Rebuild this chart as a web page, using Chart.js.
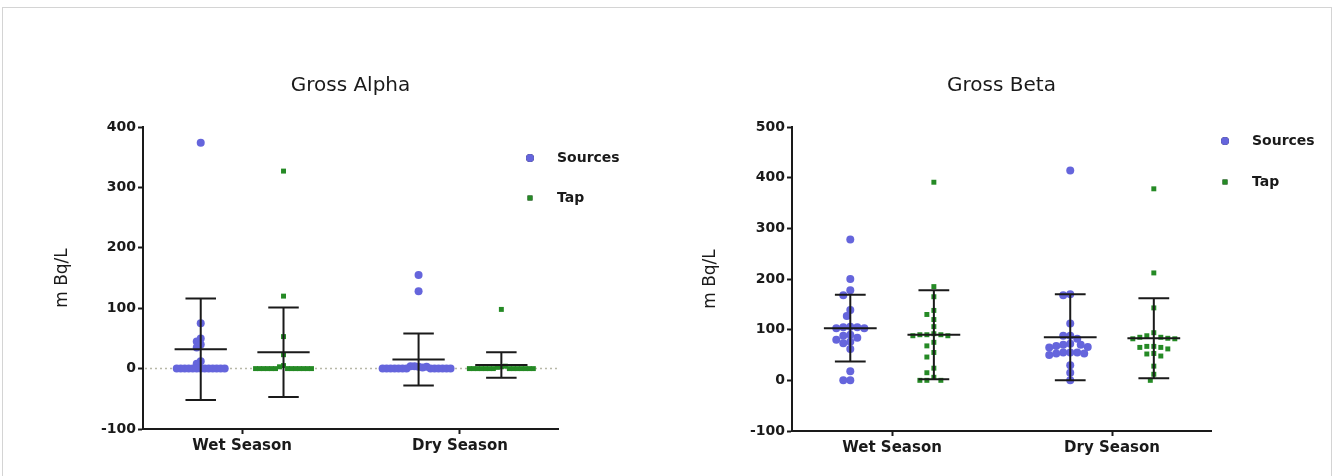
<!DOCTYPE html>
<html>
<head>
<meta charset="utf-8">
<script src="https://cdn.jsdelivr.net/npm/chart.js@4/dist/chart.umd.min.js"></script>
<style>
  body { margin: 0; background: #fff; }
  #frame { position: absolute; left: 2px; top: 7px; width: 1330px; height: 480px; border: 1px solid #d4d4d4; box-sizing: border-box; }
  canvas { position: absolute; top: 0; }
</style>
</head>
<body>
<div id="frame"></div>
<canvas id="alphaChart" width="667" height="476" style="left:0"></canvas>
<canvas id="betaChart" width="668" height="476" style="left:667px"></canvas>
<script>
// categories / series
const seasons = ["Wet Season", "Dry Season"];
const seriesNames = ["Sources", "Tap"];

// Gross Alpha, mBq/L
const alphaSourcesWet = [374, 75, 50, 45, 40, 35, 12, 8, 0, 0, 0, 0, 0, 0, 0, 0, 0, 0, 0, 0, 0];
const alphaTapWet = [327, 120, 53, 23, 5, 3, 0, 0, 0, 0, 0, 0, 0, 0, 0, 0, 0, 0, 0];
const alphaSourcesDry = [155, 128, 3, 4, 2, 4, 3, 0, 0, 0, 0, 0, 0, 0, 0, 0, 0, 0, 0, 0];
const alphaTapDry = [98, 3, 2, 4, 0, 0, 0, 0, 0, 0, 0, 0, 0, 0, 0, 0, 0, 0];
const alphaSourcesMean = [32, 15];
const alphaSourcesSD = [84, 43];
const alphaTapMean = [27, 6];
const alphaTapSD = [74, 21];
const alphaTicks = [-100, 0, 100, 200, 300, 400];

// Gross Beta, mBq/L
const betaSourcesWet = [278, 200, 178, 168, 139, 127, 106, 105, 105, 103, 103, 90, 88, 84, 80, 76, 73, 62, 18, 0, 0];
const betaTapWet = [391, 185, 165, 138, 130, 120, 106, 92, 90, 90, 90, 88, 88, 75, 68, 55, 46, 24, 15, 6, 0, 0, 0];
const betaSourcesDry = [414, 170, 168, 112, 88, 88, 82, 72, 70, 70, 68, 66, 65, 55, 55, 55, 53, 53, 50, 30, 15, 0];
const betaTapDry = [378, 212, 143, 94, 88, 85, 85, 83, 82, 82, 67, 67, 65, 65, 62, 53, 52, 48, 28, 12, 0];
const betaSourcesMean = [103, 85];
const betaSourcesSD = [66, 85];
const betaTapMean = [90, 83];
const betaTapSD = [88, 79];
const betaTicks = [-100, 0, 100, 200, 300, 400, 500];

const FONT = "'DejaVu Sans', 'Liberation Sans', Arial, sans-serif";
const BLUE = "#6565dc";
const GREEN = "#258a25";
const INK = "#1a1a1a";

// spread points sideways so equal values don't sit on top of each other (pixel units)
function swarm(vals, yPx, gap) {
  const placed = [];
  return vals.map(v => {
    const py = v * yPx;
    for (let k = 0; ; k++) {
      const off = k === 0 ? 0 : (k % 2 ? -1 : 1) * Math.ceil(k / 2) * gap / 2;
      if (placed.every(p => (p.x - off) ** 2 + (p.y - py) ** 2 >= gap * gap)) {
        placed.push({ x: off, y: py });
        return off;
      }
    }
  });
}

function toPoints(lists, shift, g) {
  return lists.flatMap((vals, i) => {
    const jit = swarm(vals, g.yPx, g.gap);
    return vals.map((v, j) => ({ x: i + shift + jit[j] / g.xPx, y: v }));
  });
}

// mean line + SD whiskers
const errorBars = {
  id: "errorBars",
  afterDatasetsDraw(chart) {
    const { ctx, scales: { x, y } } = chart;
    ctx.save();
    ctx.strokeStyle = INK;
    ctx.lineWidth = 2;
    chart.data.datasets.forEach(ds => {
      ds.mean.forEach((m, i) => {
        const cx = i + ds.shift;
        const top = y.getPixelForValue(m + ds.sd[i]);
        const bot = y.getPixelForValue(m - ds.sd[i]);
        const my = y.getPixelForValue(m);
        const px = x.getPixelForValue(cx);
        const wMean = x.getPixelForValue(cx + 0.12) - px;
        const wCap = x.getPixelForValue(cx + 0.07) - px;
        ctx.beginPath();
        ctx.moveTo(px, top); ctx.lineTo(px, bot);
        ctx.moveTo(px - wMean, my); ctx.lineTo(px + wMean, my);
        ctx.moveTo(px - wCap, top); ctx.lineTo(px + wCap, top);
        ctx.moveTo(px - wCap, bot); ctx.lineTo(px + wCap, bot);
        ctx.stroke();
      });
    });
    ctx.restore();
  }
};

const zeroLine = {
  id: "zeroLine",
  beforeDatasetsDraw(chart) {
    const { ctx, chartArea: a, scales: { y } } = chart;
    const py = y.getPixelForValue(0);
    ctx.save();
    ctx.strokeStyle = "#b8b8a8";
    ctx.lineWidth = 1.5;
    ctx.setLineDash([2, 3]);
    ctx.beginPath();
    ctx.moveTo(a.left + 2, py);
    ctx.lineTo(a.right, py);
    ctx.stroke();
    ctx.restore();
  }
};

const seriesLegend = {
  id: "seriesLegend",
  afterDraw(chart, args, opts) {
    const { ctx } = chart;
    ctx.save();
    ctx.font = "bold 14px " + FONT;
    ctx.textBaseline = "middle";
    ctx.fillStyle = INK;
    chart.data.datasets.forEach((ds, i) => {
      const y = opts.y + i * opts.step;
      Chart.helpers.drawPoint(ctx, {
        pointStyle: ds.pointStyle, radius: ds.pointRadius, borderWidth: 0
      }, opts.x, y);
      ctx.fillStyle = ds.backgroundColor;
      ctx.fill();
      ctx.fillStyle = INK;
      ctx.fillText(ds.label, opts.x + 27, y);
    });
    ctx.restore();
  }
};

function makeChart(id, cfg) {
  const g = cfg.geom;
  const plugins = [errorBars, seriesLegend];
  if (cfg.zero) plugins.push(zeroLine);
  return new Chart(document.getElementById(id), {
    type: "scatter",
    data: {
      datasets: [
        {
          label: seriesNames[0],
          data: toPoints(cfg.sources, -0.19, g),
          pointStyle: "circle", pointRadius: 4, borderWidth: 0,
          backgroundColor: BLUE,
          mean: cfg.sourcesMean, sd: cfg.sourcesSD, shift: -0.19
        },
        {
          label: seriesNames[1],
          data: toPoints(cfg.tap, 0.19, g),
          pointStyle: "rect", pointRadius: 3.5, borderWidth: 0,
          backgroundColor: GREEN,
          mean: cfg.tapMean, sd: cfg.tapSD, shift: 0.19
        }
      ]
    },
    options: {
      responsive: false,
      animation: false,
      layout: { padding: { left: g.padLeft, right: g.padRight, top: 0, bottom: 0 } },
      plugins: {
        legend: { display: false },
        tooltip: { enabled: false },
        title: {
          display: true, text: cfg.title, fullSize: false,
          color: INK, font: { family: FONT, size: 20, weight: "normal" },
          padding: { top: 74, bottom: 29 }
        },
        seriesLegend: g.legend
      },
      scales: {
        x: {
          type: "linear", min: -0.455, max: 1.45,
          afterBuildTicks: s => { s.ticks = seasons.map((_, i) => ({ value: i })); },
          afterFit: s => { s.height = g.xHeight; },
          ticks: {
            callback: v => seasons[v], color: INK, padding: 3,
            font: { family: FONT, size: 15, weight: "bold" }, maxRotation: 0
          },
          grid: { drawOnChartArea: false, drawTicks: true, tickLength: 5, tickWidth: 2, tickColor: INK },
          border: { display: true, color: INK, width: 2 }
        },
        y: {
          min: cfg.yTicks[0], max: cfg.yTicks[cfg.yTicks.length - 1],
          afterBuildTicks: s => { s.ticks = cfg.yTicks.map(v => ({ value: v })); },
          afterFit: s => { s.width = g.yWidth; },
          ticks: { color: INK, padding: 2, font: { family: FONT, size: 14, weight: "bold" } },
          grid: { drawOnChartArea: false, drawTicks: true, tickLength: 5, tickWidth: 2, tickColor: INK },
          border: { display: true, color: INK, width: 2 },
          title: { display: true, text: "m Bq/L", color: INK, font: { family: FONT, size: 17 } }
        }
      }
    },
    plugins
  });
}

makeChart("alphaChart", {
  title: "Gross Alpha",
  sources: [alphaSourcesWet, alphaSourcesDry],
  tap: [alphaTapWet, alphaTapDry],
  sourcesMean: alphaSourcesMean, sourcesSD: alphaSourcesSD,
  tapMean: alphaTapMean, tapSD: alphaTapSD,
  yTicks: alphaTicks,
  zero: true,
  geom: {
    padLeft: 48, padRight: 109, yWidth: 95, xHeight: 47,
    xPx: 218, yPx: 0.604, gap: 4,
    legend: { x: 530, y: 158, step: 40 }
  }
});

makeChart("betaChart", {
  title: "Gross Beta",
  sources: [betaSourcesWet, betaSourcesDry],
  tap: [betaTapWet, betaTapDry],
  sourcesMean: betaSourcesMean, sourcesSD: betaSourcesSD,
  tapMean: betaTapMean, tapSD: betaTapSD,
  yTicks: betaTicks,
  zero: false,
  geom: {
    padLeft: 29, padRight: 124, yWidth: 96, xHeight: 45,
    xPx: 220, yPx: 0.507, gap: 7,
    legend: { x: 558, y: 141, step: 41 }
  }
});
</script>
</body>
</html>
